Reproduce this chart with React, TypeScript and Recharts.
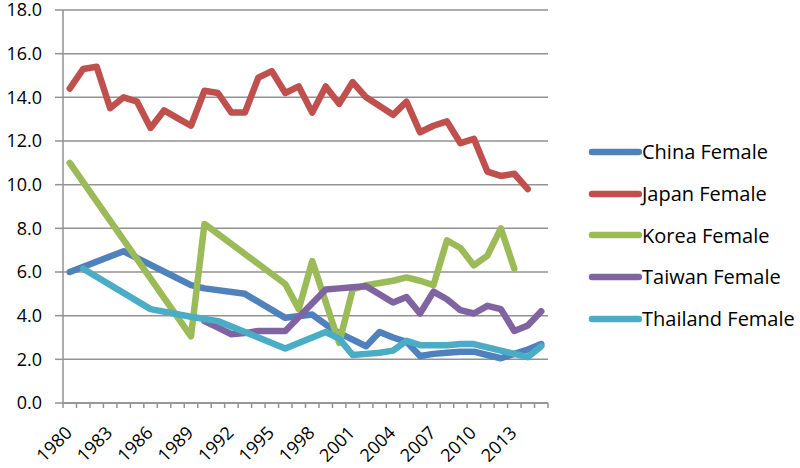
// Female rates 1980–2015 for five Asian countries, thick Excel-style lines.
import { LineChart, Line, XAxis, YAxis, CartesianGrid, Legend } from "recharts";

const years = [
  "1980", "1981", "1982", "1983", "1984", "1985", "1986", "1987", "1988", "1989",
  "1990", "1991", "1992", "1993", "1994", "1995", "1996", "1997", "1998", "1999",
  "2000", "2001", "2002", "2003", "2004", "2005", "2006", "2007", "2008", "2009",
  "2010", "2011", "2012", "2013", "2014", "2015",
];

const china = [
  6.0, null, null, null, 6.95, null, null, null, null, 5.4,
  5.25, null, null, 5.0, null, null, 3.9, null, 4.05, 3.6,
  3.2, 2.9, 2.6, 3.25, 3.0, 2.8, 2.15, 2.25, 2.3, 2.35,
  2.35, 2.2, 2.05, 2.25, 2.45, 2.7,
];
const japan = [
  14.4, 15.3, 15.4, 13.5, 14.0, 13.8, 12.6, 13.4, 13.05, 12.7,
  14.3, 14.2, 13.3, 13.3, 14.9, 15.2, 14.2, 14.5, 13.3, 14.5,
  13.7, 14.7, 14.0, 13.6, 13.2, 13.8, 12.4, 12.7, 12.9, 11.9,
  12.1, 10.6, 10.4, 10.5, 9.8, null,
];
const korea = [
  11.0, null, null, null, null, null, null, null, null, 3.05,
  8.2, null, null, null, null, null, 5.45, 4.3, 6.5, null,
  2.75, 5.2, 5.4, 5.5, 5.6, 5.75, 5.6, 5.4, 7.45, 7.1,
  6.3, 6.75, 8.0, 6.15, null, null,
];
const taiwan = [
  null, null, null, null, null, null, null, null, null, null,
  3.75, 3.45, 3.15, 3.2, 3.3, 3.3, 3.3, null, null, 5.2,
  5.25, 5.3, 5.35, null, 4.6, 4.85, 4.1, 5.1, 4.75, 4.25,
  4.1, 4.45, 4.3, 3.3, 3.55, 4.2,
];
const thailand = [
  null, 6.15, null, null, null, null, 4.3, null, null, 3.95,
  3.85, 3.75, null, null, null, null, 2.5, null, null, 3.25,
  2.95, 2.2, 2.25, 2.3, 2.4, 2.85, 2.65, 2.65, 2.65, 2.7,
  2.7, 2.55, 2.4, 2.25, 2.1, 2.6,
];

const yTicks = [0, 2, 4, 6, 8, 10, 12, 14, 16, 18];

const series = [
  { key: "China Female", values: china, color: "#4F81BD" },
  { key: "Japan Female", values: japan, color: "#C0504D" },
  { key: "Korea Female", values: korea, color: "#9BBB59" },
  { key: "Taiwan Female", values: taiwan, color: "#8064A2" },
  { key: "Thailand Female", values: thailand, color: "#4BACC6" },
];

const data = years.map((year, i) => {
  const row: Record<string, string | number | null> = { year };
  series.forEach((s) => (row[s.key] = s.values[i]));
  return row;
});

const FONT = "'Open Sans', sans-serif";
const GRID = "#929292";
const PLOT_W = 485;
const BAND = PLOT_W / years.length;

// x ticks: marks between categories, label every 3rd year at -45°
function YearTick(props: any) {
  const { x, y, payload, index } = props;
  const half = BAND / 2;
  const tx = x + 3.5;
  const ty = y + 31;
  return (
    <g>
      <line x1={x - half} y1={y} x2={x - half} y2={y + 5} stroke={GRID} strokeWidth={1.5} />
      {index === years.length - 1 && (
        <line x1={x + half} y1={y} x2={x + half} y2={y + 5} stroke={GRID} strokeWidth={1.5} />
      )}
      {index % 3 === 0 && (
        <text
          x={tx}
          y={ty}
          textAnchor="end"
          transform={`rotate(-45 ${tx} ${ty})`}
          fontSize={18}
          fontFamily={FONT}
          fill="#000"
        >
          {payload.value}
        </text>
      )}
    </g>
  );
}

function LegendBox() {
  return (
    <div style={{ fontFamily: FONT, fontSize: 20, color: "#000" }}>
      {series.map((s) => (
        <div key={s.key} style={{ display: "flex", alignItems: "center", height: 41.7 }}>
          <svg width={54} height={10} style={{ marginRight: 0 }}>
            <line x1={4} y1={5} x2={51} y2={5} stroke={s.color} strokeWidth={6.5} strokeLinecap="round" />
          </svg>
          <span>{s.key}</span>
        </div>
      ))}
    </div>
  );
}

export default function App() {
  return (
    <div style={{ position: "absolute", left: 0, top: 0 }}>
      <LineChart
        width={800}
        height={468}
        data={data}
        margin={{ top: 10, right: 42, bottom: 0, left: 0 }}
      >
        <CartesianGrid vertical={false} stroke={GRID} strokeWidth={1.5} />
        <XAxis
          dataKey="year"
          interval={0}
          height={65}
          padding={{ left: BAND / 2, right: BAND / 2 }}
          tickSize={0}
          tickMargin={0}
          tickLine={false}
          stroke={GRID}
          strokeWidth={1.5}
          tick={<YearTick />}
        />
        <YAxis
          width={63}
          domain={[0, 18]}
          ticks={yTicks}
          interval={0}
          tickFormatter={(v: number) => v.toFixed(1)}
          tickSize={8}
          tickMargin={13}
          stroke={GRID}
          strokeWidth={1.5}
          tick={{ fontSize: 18, fontFamily: FONT, fill: "#000" }}
        />
        <Legend
          layout="vertical"
          align="right"
          verticalAlign="top"
          wrapperStyle={{ left: 588, top: 131, width: 210 }}
          content={() => <LegendBox />}
        />
        {series.map((s) => (
          <Line
            key={s.key}
            dataKey={s.key}
            type="linear"
            stroke={s.color}
            strokeWidth={6.5}
            strokeLinejoin="round"
            strokeLinecap="round"
            dot={false}
            activeDot={false}
            connectNulls
            isAnimationActive={false}
          />
        ))}
      </LineChart>
    </div>
  );
}
